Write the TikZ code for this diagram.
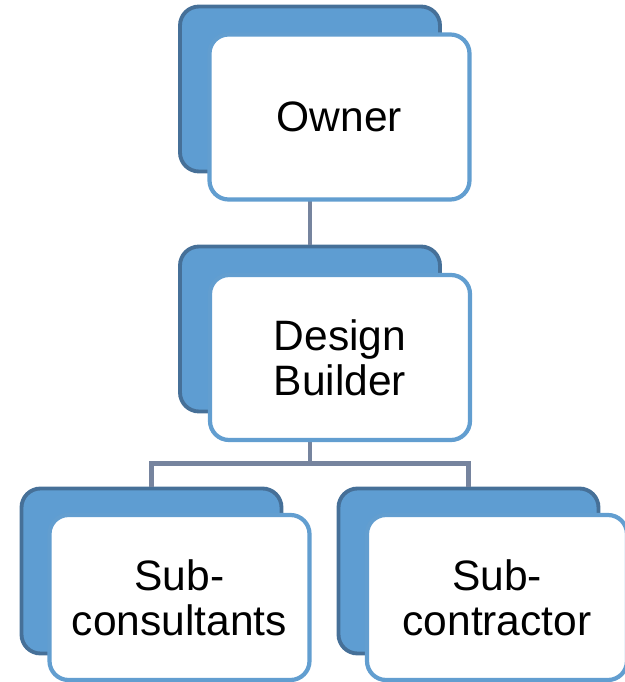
\documentclass[tikz,border=0pt]{standalone}
\usepackage{fontspec}
\setmainfont{Liberation Sans}
\usepackage{tikz}
\usetikzlibrary{calc}

\definecolor{backfill}{RGB}{94,157,210}
\definecolor{backline}{RGB}{70,112,152}
\definecolor{frontline}{RGB}{98,158,208}
\definecolor{linkgray}{RGB}{118,132,158}

\begin{document}
\begin{tikzpicture}[
    back/.style={draw=backline, fill=backfill, line width=2.2pt, rounded corners=0.38cm,
      minimum width=5.2cm, minimum height=3.3cm},
    front/.style={draw=frontline, fill=white, line width=2.4pt, rounded corners=0.38cm,
      minimum width=5.2cm, minimum height=3.3cm, align=center,
      font=\fontsize{24.2}{25.5}\selectfont},
    link/.style={draw=linkgray, line width=2.5pt}]
  \useasboundingbox (0,0) rectangle (12.5,13.64);

  \node[back] (ownerback) at (6.2,11.86) {};
  \node[back] (dbback) at (6.2,7.06) {};
  \node[back] (consback) at (3.03,2.22) {};
  \node[back] (contrback) at (9.37,2.22) {};

  \path[link] (ownerback.south) -- (dbback.north);
  \path[link] (dbback.south) -- ++(0,-1) -| (consback.north);
  \path[link] (dbback.south) -- ++(0,-1) -| (contrback.north);

  \node[front] (owner) at (6.79,11.3) {Owner};
  \node[front] (db) at (6.8,6.49) {Design\\Builder};
  \node[front] (cons) at (3.59,1.69) {Sub-\\consultants};
  \node[front] (contr) at (9.94,1.69) {Sub-\\contractor};
\end{tikzpicture}
\end{document}
